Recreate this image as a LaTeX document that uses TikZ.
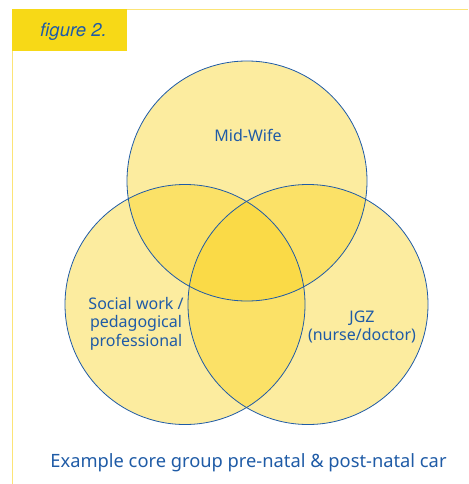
\documentclass[tikz,border=0pt]{standalone}
\usepackage{fontspec}
\setmainfont{Noto Sans}
\newfontfamily\figfont{TeX Gyre Heros}
\definecolor{vennblue}{HTML}{1F5BA6}
\definecolor{vennfill}{HTML}{F9D11A}
\definecolor{framey}{HTML}{FCE476}
\definecolor{boxy}{HTML}{F7D917}

\begin{document}
\begin{tikzpicture}[x=1pt,y=-1pt,
  venn/.style={fill=vennfill,fill opacity=.42},
  ring/.style={draw=vennblue,line width=.8pt},
  frameline/.style={draw=framey,line width=1.3pt},
  txt/.style={text=vennblue,align=center,inner sep=0pt,
    font=\fontsize{16}{18.5}\selectfont}]
\useasboundingbox (0,0) rectangle (468,484);

\draw[frameline] (127,9.5) -- (468,9.5);
\draw[frameline] (12.5,51) -- (12.5,484);
\fill[boxy] (12,9) rectangle (127,51);
\node[txt,font=\figfont\itshape\fontsize{18.5}{20}\selectfont] (figlabel) at (73.5,32) {figure 2.};

\foreach \c in {(247,181),(185,304.5),(308,304.5)}
  \fill[venn] \c circle [radius=120pt];
\foreach \c in {(247,181),(185,304.5),(308,304.5)}
  \draw[ring] \c circle [radius=120pt];

\node[txt] (midwife) at (248,135) {Mid-Wife};
\node[txt] (social) at (136,323.5) {Social work /\\pedagogical\\professional};
\node[txt] (jgz) at (362,327) {JGZ\\(nurse/doctor)};
\node[txt,font=\fontsize{18.3}{20}\selectfont] (caption) at (248.5,463) {Example core group pre-natal \& post-natal car};
\end{tikzpicture}
\end{document}
